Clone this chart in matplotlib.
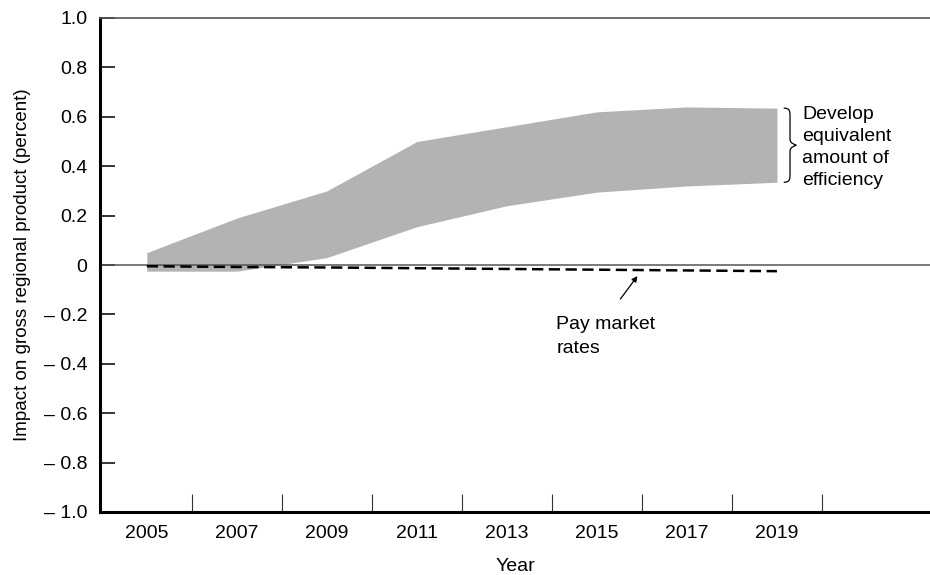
import matplotlib
matplotlib.use("Agg")
import matplotlib.pyplot as plt
from matplotlib.path import Path
from matplotlib.patches import PathPatch

plt.rcParams['font.family'] = ['Liberation Sans', 'DejaVu Sans']

years = [2005, 2007, 2009, 2011, 2013, 2015, 2017, 2019]
upper = [0.05, 0.19, 0.30, 0.50, 0.56, 0.62, 0.64, 0.635]
lower = [-0.025, -0.025, 0.03, 0.155, 0.24, 0.295, 0.32, 0.335]
market = [-0.005, -0.008, -0.010, -0.013, -0.016, -0.019, -0.022, -0.025]

yticks = [1.0, 0.8, 0.6, 0.4, 0.2, 0.0, -0.2, -0.4, -0.6, -0.8, -1.0]
ytick_labels = ["1.0", "0.8", "0.6", "0.4", "0.2", "0", "\u2013 0.2", "\u2013 0.4",
                "\u2013 0.6", "\u2013 0.8", "\u2013 1.0"]
xlabel_years = [2005, 2007, 2009, 2011, 2013, 2015, 2017, 2019]
xtick_marks = [2006, 2008, 2010, 2012, 2014, 2016, 2018, 2020]

fig = plt.figure(figsize=(9.3, 5.75), dpi=100)
ax = fig.add_axes([100 / 930, 1 - 512 / 575, 1 - 100 / 930, (512 - 18) / 575])

ax.fill_between(years, lower, upper, color="#b3b3b3", linewidth=0, zorder=1)
ax.axhline(0, color="#555555", linewidth=1.1, zorder=2)
ax.plot(years, market, color="black", linewidth=1.8, dashes=(4.5, 2.2), zorder=3)

ax.set_xlim(2003.96, 2022.4)
ax.set_ylim(-1.0, 1.0)

ax.set_yticks(yticks)
ax.set_yticklabels(ytick_labels)
ax.set_xticks(xtick_marks)
ax.set_xticklabels([])
ax.set_xticks(xlabel_years, minor=True)
ax.set_xticklabels([str(y) for y in xlabel_years], minor=True)

ax.tick_params(axis='y', direction='in', length=11, width=1.1, labelsize=14, pad=9)
ax.tick_params(axis='x', which='major', direction='in', length=13, width=0.8, color="#333333")
ax.tick_params(axis='x', which='minor', length=0, labelsize=14, pad=9)

for s in ['left', 'bottom']:
    ax.spines[s].set_linewidth(2.2)
    ax.spines[s].set_color('black')
ax.spines['top'].set_linewidth(1.2)
ax.spines['top'].set_color('#555555')
ax.spines['right'].set_visible(False)

ax.set_xlabel("Year", fontsize=14, labelpad=12)
ax.set_ylabel("Impact on gross regional product (percent)", fontsize=13.5, labelpad=9)

# Brace next to the end of the band
x0 = years[-1] + 0.15
top = upper[-1]
bot = lower[-1]
mid = (top + bot) / 2
dx = 0.14
h = top - bot
verts = [
    (x0, top),
    (x0 + dx, top), (x0 + dx, top - 0.04 * h), (x0 + dx, top - 0.12 * h),
    (x0 + dx, mid + 0.08 * h),
    (x0 + dx, mid + 0.02 * h), (x0 + 2 * dx, mid), (x0 + 2 * dx, mid),
    (x0 + 2 * dx, mid), (x0 + dx, mid - 0.02 * h), (x0 + dx, mid - 0.08 * h),
    (x0 + dx, bot + 0.12 * h),
    (x0 + dx, bot + 0.04 * h), (x0 + dx, bot), (x0, bot),
]
codes = [Path.MOVETO,
         Path.CURVE4, Path.CURVE4, Path.CURVE4,
         Path.LINETO,
         Path.CURVE4, Path.CURVE4, Path.CURVE4,
         Path.CURVE4, Path.CURVE4, Path.CURVE4,
         Path.LINETO,
         Path.CURVE4, Path.CURVE4, Path.CURVE4]
ax.add_patch(PathPatch(Path(verts, codes), facecolor='none', edgecolor='black',
                       linewidth=0.9, zorder=4))

ax.text(years[-1] + 0.56, mid - 0.01, "Develop\nequivalent\namount of\nefficiency",
        fontsize=14, ha='left', va='center', linespacing=1.4)

ax.annotate("", xy=(2015.9, -0.045), xytext=(2015.52, -0.138),
            arrowprops=dict(arrowstyle='-|>', color='black', lw=0.9,
                            mutation_scale=8, shrinkA=0, shrinkB=0))
ax.text(2014.1, -0.29, "Pay market\nrates", fontsize=14, ha='left', va='center',
        linespacing=1.5)

fig.savefig("out.png", dpi=100)
